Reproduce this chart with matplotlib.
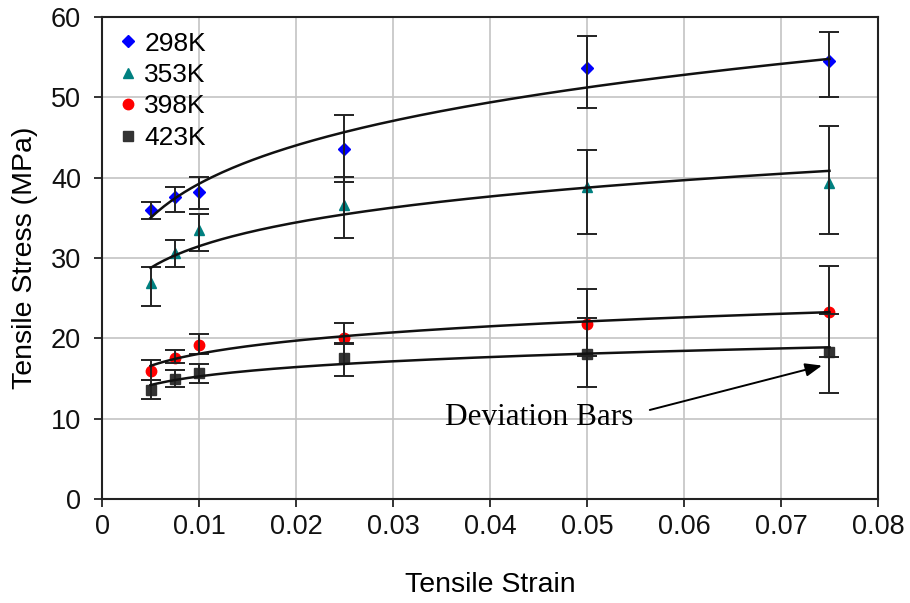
import matplotlib
matplotlib.use("Agg")
import matplotlib.pyplot as plt
import numpy as np

plt.rcParams["font.family"] = ["Liberation Sans", "DejaVu Sans"]

# Tensile strain at which the samples were measured
strain = [0.005, 0.0075, 0.01, 0.025, 0.05, 0.075]

# Mean tensile stress (MPa) per temperature
stress_298 = [36.0, 37.6, 38.2, 43.6, 53.7, 54.5]
stress_353 = [26.9, 30.6, 33.5, 36.6, 38.9, 39.3]
stress_398 = [15.9, 17.5, 19.2, 20.1, 21.8, 23.3]
stress_423 = [13.6, 14.9, 15.7, 17.5, 18.1, 18.3]

# Deviation bar ends (low, high)
low_298 = [34.9, 35.7, 36.1, 39.5, 48.7, 50.0]
high_298 = [37.0, 38.9, 40.1, 47.8, 57.7, 58.2]
low_353 = [24.0, 28.9, 30.9, 32.5, 33.0, 33.0]
high_353 = [28.9, 32.3, 35.5, 40.1, 43.5, 46.4]
low_398 = [14.8, 16.9, 18.1, 19.3, 17.8, 17.7]
high_398 = [17.3, 18.5, 20.6, 21.9, 26.2, 29.0]
low_423 = [12.4, 14.0, 14.4, 15.3, 14.0, 13.2]
high_423 = [14.8, 16.1, 16.8, 19.4, 22.5, 23.0]

labels = ["298K", "353K", "398K", "423K"]
colors = ["#0000ff", "#008080", "#ff0000", "#333333"]
markers = ["D", "^", "o", "s"]
sizes = [6.5, 7.5, 7.5, 7]

series = [
    (stress_298, low_298, high_298),
    (stress_353, low_353, high_353),
    (stress_398, low_398, high_398),
    (stress_423, low_423, high_423),
]

fig = plt.figure(figsize=(9.1, 6.03), dpi=100)
ax = fig.add_axes([0.1121, 0.1725, 0.8527, 0.799])

x = np.array(strain)
x_fit = np.linspace(min(strain), max(strain), 200)

for (mean, lo, hi), lab, col, mk, ms in zip(series, labels, colors, markers, sizes):
    mean = np.array(mean)
    yerr = [mean - np.array(lo), np.array(hi) - mean]
    ax.plot(x, mean, linestyle="none", marker=mk, color=col, markersize=ms,
            label=lab, zorder=3)
    ax.errorbar(x, mean, yerr=yerr, fmt="none", ecolor="#222222",
                elinewidth=1.4, capsize=7, capthick=1.4, zorder=4)
    # power-law trend line, fitted in log space
    b, log_a = np.polyfit(np.log(x), np.log(mean), 1)
    ax.plot(x_fit, np.exp(log_a) * x_fit ** b, color="#111111",
            linewidth=1.8, zorder=5)

ax.set_xlim(0, 0.08)
ax.set_ylim(0, 60)
ax.set_xticks(np.arange(0, 0.081, 0.01))
ax.set_xticklabels(["0", "0.01", "0.02", "0.03", "0.04", "0.05", "0.06",
                    "0.07", "0.08"])
ax.set_yticks(range(0, 61, 10))
ax.grid(True, color="#c4c4c4", linewidth=1.2)
ax.set_axisbelow(True)
ax.tick_params(direction="out", length=6, width=1.2, labelsize=19.5,
               colors="#111111")
ax.tick_params(axis="x", pad=5)
ax.tick_params(axis="y", pad=9)
for s in ax.spines.values():
    s.set_color("#222222")
    s.set_linewidth(1.5)

ax.set_xlabel("Tensile Strain", fontsize=20.5)
ax.set_ylabel("Tensile Stress (MPa)", fontsize=20.5)
ax.xaxis.set_label_coords(0.5, -0.152)
ax.yaxis.set_label_coords(-0.082, 0.5)

ax.text(0.0354, 10.1, "Deviation Bars", fontsize=22.5,
        family=["Liberation Serif", "DejaVu Serif"], ha="left", va="center")
ax.annotate("", xy=(0.0745, 16.7), xytext=(0.0562, 11.0),
            arrowprops=dict(arrowstyle="-|>,head_length=1.0,head_width=0.4",
                            color="black", linewidth=1.4))

ax.legend(loc="upper left", frameon=False, fontsize=19, handletextpad=0.15,
          handlelength=0.9, labelspacing=0.28, borderaxespad=0.25,
          borderpad=0.3)

fig.savefig("out.png", dpi=100)
